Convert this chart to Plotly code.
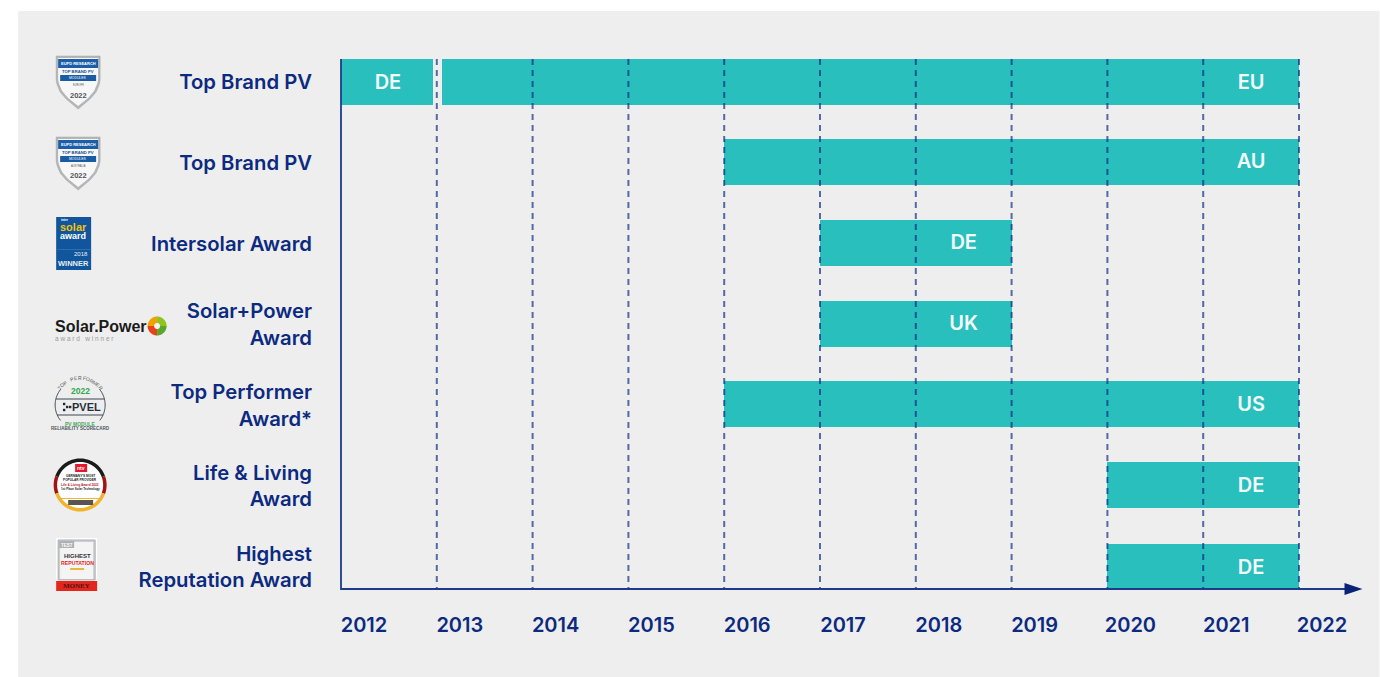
import numpy as np
import plotly.graph_objects as go

# ---------- data ----------
award_labels = ["Top Brand PV", "Top Brand PV", "Intersolar Award", "Solar+Power<br>Award",
                "Top Performer<br>Award*", "Life &amp; Living<br>Award", "Highest<br>Reputation Award"]
rows = [0, 1, 2, 3, 4, 5, 6]
years = list(range(2012, 2023))
seg_row = [0, 0, 1, 2, 3, 4, 5, 6]
seg_start = [2012.0, 2013.05, 2016.0, 2017.0, 2017.0, 2016.0, 2020.0, 2020.0]
seg_end = [2012.96, 2022.0, 2022.0, 2019.0, 2019.0, 2022.0, 2022.0, 2022.0]
lab_text = ["DE", "EU", "AU", "DE", "UK", "US", "DE", "DE"]
lab_x = [2012.49, 2021.5, 2021.5, 2018.5, 2018.5, 2021.5, 2021.5, 2021.5]

NAVY = "#0c2a80"
TEAL = "#29bfbd"
FONT = "Inter"

# plot frame in page pixels
L, R, T, B = 341.0, 1300.5, 59.0, 589.0
W, H = 1380, 677
def xp(p): return (p - L) / (R - L)
def yp(p): return (B - p) / (B - T)

# rows 1-5 sit about a pixel above the even pitch in the reference
bar_y = [r - 0.012 if 0 < r < 6 else r for r in seg_row]

fig = go.Figure()

fig.add_trace(go.Bar(
    y=bar_y, x=[e - s for s, e in zip(seg_start, seg_end)], base=seg_start,
    orientation="h", width=0.569, marker=dict(color=TEAL, line_width=0),
    hoverinfo="skip", showlegend=False))

gx, gy = [], []
for yr in years[1:]:
    gx += [yr, yr, None]
    gy += [-0.2845, 6.272, None]
fig.add_trace(go.Scatter(x=gx, y=gy, mode="lines", showlegend=False, hoverinfo="skip", cliponaxis=False,
                         line=dict(color="rgba(12,42,128,0.68)", width=2, dash="6px,5px")))

fig.add_trace(go.Scatter(x=lab_x, y=[v + 0.02 for v in bar_y], mode="text", text=lab_text, showlegend=False,
                         hoverinfo="skip", textposition="middle center", cliponaxis=False,
                         textfont=dict(family=FONT, size=20, color="#f4fbfb", weight=600)))

shapes, ann = [], []
def rect(x0, y0, x1, y1, fill, line=None, lw=0, layer="above"):
    shapes.append(dict(type="rect", xref="paper", yref="paper", x0=xp(x0), x1=xp(x1), y0=yp(y0), y1=yp(y1),
                       fillcolor=fill, line=dict(color=line or fill, width=lw), layer=layer))
def poly(pts, fill=None, line=None, lw=0, close=True):
    d = "M" + " L".join(f"{xp(a):.5f},{yp(b):.5f}" for a, b in pts) + (" Z" if close else "")
    shapes.append(dict(type="path", xref="paper", yref="paper", path=d, fillcolor=fill or "rgba(0,0,0,0)",
                       line=dict(color=line or "rgba(0,0,0,0)", width=lw), layer="above"))
def arc(cx, cy, r, a0, a1, n=40):
    t = np.radians(np.linspace(a0, a1, n))
    return [(cx + r * np.cos(v), cy - r * np.sin(v)) for v in t]
def ring(cx, cy, r0, r1, a0, a1, fill):
    poly(arc(cx, cy, r1, a0, a1) + arc(cx, cy, r0, a1, a0), fill=fill)
def txt(x, y, s, size, color="#333333", weight=700, anchor="center", fam="Liberation Sans", angle=0):
    ann.append(dict(xref="paper", yref="paper", x=xp(x), y=yp(y), text=s, showarrow=False, xanchor=anchor,
                    yanchor="middle", textangle=angle, borderpad=0, borderwidth=0,
                    font=dict(family=fam, size=size, color=color, weight=weight)))

# page panel and axis frame
rect(18, 11, 1380, 677, "#eeeeee", layer="below")
poly([(341, 59), (341, 589), (1346, 589)], line="#1f3a8a", lw=1.8, close=False)
poly([(1345, 583), (1363, 589), (1345, 595)], fill="#0a2377")

# shield badges
def shield(top, region):
    def P(x, y): return (x, top + y)
    outline = [P(56, 0), P(100, 0), P(100, 24), P(99, 29), P(96, 36), P(90, 43), P(84, 48), P(78, 53),
               P(72, 48), P(66, 43), P(60, 36), P(57, 29), P(56, 24)]
    poly(outline, fill="#b4b6b8", line="#a2a4a6", lw=0.5)
    inner = [P(58, 2), P(98, 2), P(98, 24), P(97, 28), P(94, 35), P(88, 42), P(83, 46), P(78, 50),
             P(73, 46), P(68, 42), P(62, 35), P(59, 28), P(58, 24)]
    poly(inner, fill="#f7f7f7")
    rect(58, top + 3, 98, top + 12, "#1c5fa8")
    rect(60, top + 19, 96, top + 25, "#1a5ca3")
    txt(78, top + 7.5, "EUPD RESEARCH", 4, "#ffffff")
    txt(78, top + 15.5, "TOP BRAND PV", 4.2, "#1a4d91")
    txt(78, top + 22, "MODULES", 3.4, "#ffffff", 400)
    txt(78, top + 29, region, 2.6, "#555555", 400)
    txt(78, top + 39, "2022", 7.5, "#555555")
shield(56, "EUROPE")
shield(137, "AUSTRALIA")

# intersolar badge
rect(56, 217, 91, 270, "#11569c")
rect(56, 249, 91, 250, "#2a6fb2")
txt(61, 219.5, "inter", 3.2, "#ffffff", anchor="left")
txt(73, 226.5, "solar", 11, "#f4c20d")
txt(73, 236, "award", 9, "#ffffff")
txt(81, 254, "2018", 6, "#e6eef6", 400)
txt(73, 263.5, "WINNER", 7.5, "#e6eef6")

# solar+power mark
txt(55, 326, "Solar.Power", 16, "#1b1b1b", 700, "left")
txt(55, 338, "a w a r d   w i n n e r", 6.5, "#9a9a9a", 400, "left")
ring(157, 326, 0, 9.5, 0, 90, "#8fc31f")
ring(157, 326, 0, 9.5, 90, 180, "#f0a202")
ring(157, 326, 0, 9.5, 180, 270, "#e8421a")
ring(157, 326, 0, 9.5, 270, 360, "#5aa52b")
ring(157, 326, 0, 3, 0, 360, "#f4f4f4")

# PVEL mark
poly(arc(80, 405, 25, 40, -38), line="#3a4650", lw=1, close=False)
poly(arc(80, 405, 25, 140, 218), line="#3a4650", lw=1, close=False)
poly([(56, 399), (104, 399)], line="#3a4650", lw=1, close=False)
poly([(57, 415), (103, 415)], line="#3a4650", lw=1, close=False)
for s, a in zip("TOP PERFORMER", np.linspace(141, 39, 13)):
    px_, py_ = 80 + 27 * np.cos(np.radians(a)), 405 - 27 * np.sin(np.radians(a))
    txt(px_, py_, s, 5, "#555555", 400, angle=90 - a)
txt(80, 391, "2022", 8.5, "#2fa84f")
for dx, dy in [(64, 404), (64, 410), (67, 407), (70, 407)]:
    rect(dx - 1.2, dy - 1.2, dx + 1.2, dy + 1.2, "#1d2a33")
txt(86, 407, "PVEL", 11, "#26323a")
txt(80, 424, "PV MODULE", 5, "#45a85a")
txt(80, 428.5, "RELIABILITY SCORECARD", 4.5, "#4a5660")

# life & living roundel
cx, cy = 80, 485
ring(cx, cy, 0, 26, 0, 360, "#ffffff")
ring(cx, cy, 23, 26.5, 20, 160, "#1b1b1b")
ring(cx, cy, 23, 26.5, 160, 200, "#a01414")
ring(cx, cy, 23, 26.5, -20, 20, "#a01414")
ring(cx, cy, 23, 26.5, 200, 340, "#f2b32c")
rect(75, 464, 87, 472, "#e3172d")
txt(81, 468, "ntv", 5, "#ffffff")
txt(80, 476, "GERMANY'S MOST", 3.2, "#222222")
txt(80, 480, "POPULAR PROVIDER", 3.2, "#222222")
txt(80, 484.5, "Life & Living Award 2022", 3.2, "#c4122f")
txt(80, 489, "1st Place Solar Technology", 3, "#222222")
rect(58, 498, 102, 499, "#f2b32c")
rect(68, 500, 93, 505, "#555555")

# reputation badge
rect(56, 538, 97, 591, "#ffffff")
rect(58, 540, 95, 580, "#cdd0d2", line="#a9adb0", lw=1)
rect(60, 542, 93, 579, "#f4f4f4")
rect(59, 541, 74, 548, "#aeb2b5")
txt(67, 545, "TEST", 4.5, "#ffffff")
txt(77, 555.5, "HIGHEST", 6, "#333333")
txt(77, 562.5, "REPUTATION", 5.2, "#e3271f")
rect(70, 568, 84, 570, "#e6b93c")
rect(56, 581, 97, 591, "#e3271f")
txt(76.5, 586, "MONEY", 7, "#4a1410", 700, fam="Liberation Serif")

fig.update_layout(
    width=W, height=H, autosize=False,
    margin=dict(l=L, r=W - R, t=T, b=H - B, pad=0),
    paper_bgcolor="#ffffff", plot_bgcolor="rgba(0,0,0,0)",
    showlegend=False, shapes=shapes, annotations=ann, bargap=0,
    xaxis=dict(range=[2012, 2022.0104], tickmode="array", tickvals=years, ticktext=[str(y) for y in years],
               showgrid=False, zeroline=False, showline=False, ticks="outside", ticklen=18,
               tickcolor="rgba(0,0,0,0)", ticklabelshift=23,
               tickfont=dict(family=FONT, size=20, color=NAVY, weight=600)),
    yaxis=dict(range=[6.272, -0.2845], tickmode="array", tickvals=rows, ticktext=award_labels,
               showgrid=False, zeroline=False, showline=False, ticks="",
               ticklabelstandoff=28,
               tickfont=dict(family=FONT, size=20.3, color=NAVY, weight=600)),
)
fig.write_html("out.html", post_script="document.body.style.margin='0';",
               config={"displayModeBar": False})
